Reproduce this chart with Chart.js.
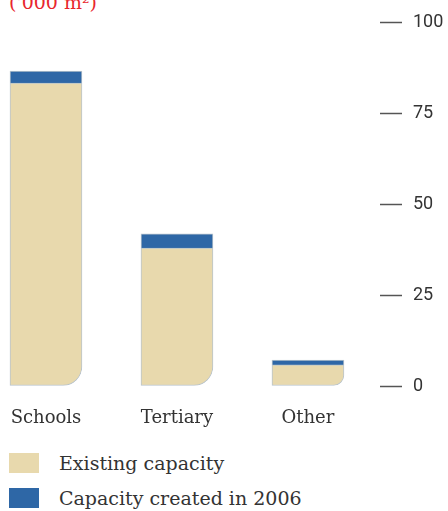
<!DOCTYPE html>
<html>
<head>
<meta charset="utf-8">
<script src="https://cdn.jsdelivr.net/npm/chart.js@4/dist/chart.umd.min.js"></script>
<style>
  body { margin: 0; background: #fff; }
  #wrap { position: relative; width: 448px; height: 511px; overflow: hidden; }
  #unit { position: absolute; left: 9px; top: -8px; font: 19px "DejaVu Serif", serif; color: #e8262d; line-height: 20px; white-space: nowrap; }
  #chart { position: absolute; left: 0; top: 0; }
  #legend { position: absolute; left: 9px; top: 453px; font: 19px "DejaVu Serif", serif; color: #333; }
  .item { display: flex; align-items: center; height: 20px; margin-bottom: 15px; }
  .box { width: 30px; height: 20px; margin-right: 20px; }
</style>
</head>
<body>
<div id="wrap">
  <div id="unit">('000 m²)</div>
  <canvas id="chart" width="448" height="440"></canvas>
  <div id="legend"></div>
</div>
<script>
const categories = ['Schools', 'Tertiary', 'Other'];
const existing = [83.2, 37.9, 5.8];
const created = [3.3, 3.9, 1.3];
const yTicks = [0, 25, 50, 75, 100];

const beige = '#e8d9ad';
const blue = '#2e67a6';
const edge = '#b9c4cd';

const ctx = document.getElementById('chart');
const chart = new Chart(ctx, {
  type: 'bar',
  data: {
    datasets: [{
      label: 'Existing capacity',
      data: existing.map((v, i) => ({ x: i, y: v })),
      backgroundColor: beige,
      borderColor: edge,
      borderWidth: 1,
      borderSkipped: false,
      borderRadius: { topLeft: 0, topRight: 0, bottomLeft: 0, bottomRight: 19 },
      barThickness: 72
    }, {
      label: 'Capacity created in 2006',
      data: created.map((v, i) => ({ x: i, y: v })),
      backgroundColor: blue,
      borderColor: edge,
      borderWidth: 1,
      barThickness: 72
    }]
  },
  options: {
    responsive: false,
    animation: false,
    layout: { padding: { top: 22, left: 0, right: 0, bottom: 0 } },
    plugins: { legend: { display: false }, tooltip: { enabled: false } },
    scales: {
      x: {
        type: 'linear',
        stacked: true,
        offset: false,
        min: -0.351,
        max: 2.55,
        grid: { display: false, drawTicks: false },
        border: { display: false },
        afterBuildTicks: s => { s.ticks = categories.map((c, i) => ({ value: i })); },
        afterFit: s => { s.height = 54; s.paddingLeft = 0; s.paddingRight = 0; },
        ticks: {
          autoSkip: false,
          maxRotation: 0,
          padding: 22,
          color: '#333',
          font: { family: 'DejaVu Serif', size: 18 },
          callback: v => categories[v]
        }
      },
      y: {
        position: 'right',
        stacked: true,
        min: 0,
        max: 100,
        grid: { drawOnChartArea: false, tickLength: 22, tickColor: '#555', tickWidth: 1.5 },
        border: { display: false },
        afterBuildTicks: s => { s.ticks = yTicks.map(v => ({ value: v })); },
        afterFit: s => { s.width = 68; },
        ticks: {
          padding: 11,
          color: '#333',
          font: { family: 'Roboto', size: 18 }
        }
      }
    }
  }
});

// legend rows built from the datasets
const legend = document.getElementById('legend');
chart.data.datasets.forEach(ds => {
  const row = document.createElement('div');
  row.className = 'item';
  const box = document.createElement('span');
  box.className = 'box';
  box.style.background = ds.backgroundColor;
  const txt = document.createElement('span');
  txt.textContent = ds.label;
  row.appendChild(box);
  row.appendChild(txt);
  legend.appendChild(row);
});
</script>
</body>
</html>
